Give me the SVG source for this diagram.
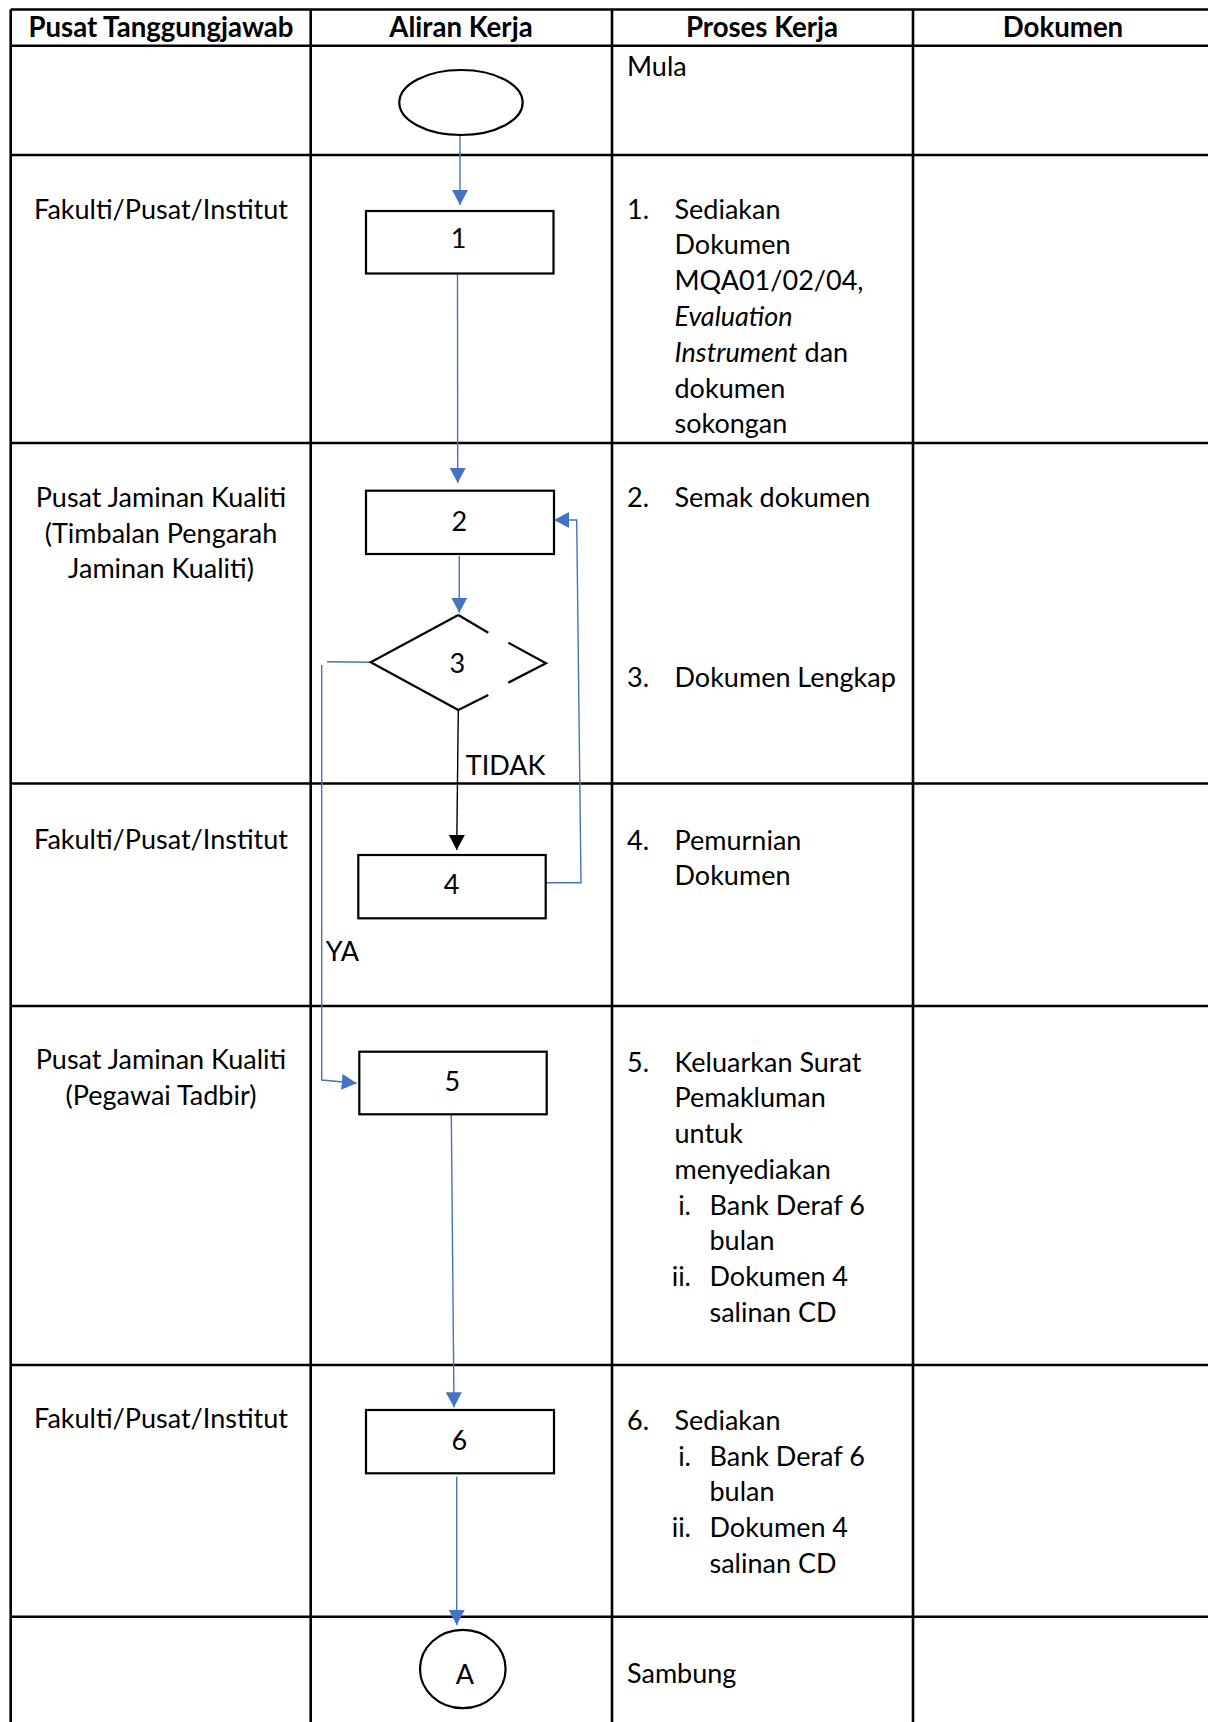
<svg xmlns="http://www.w3.org/2000/svg" width="1208" height="1722" viewBox="0 0 1208 1722">
<style>
.grid{stroke:#000;stroke-width:2.6;fill:none}
.shape{fill:#fff;stroke:#000;stroke-width:2.2}
.conn{stroke:#4472C4;stroke-width:1.4;fill:none}
.connk{stroke:#000;stroke-width:1.4;fill:none}
text{font-family:Lato,"Liberation Sans",sans-serif;font-size:27px;fill:#000}
.h{font-weight:bold;text-anchor:middle;font-size:27.6px}
.c{text-anchor:middle}
.e{text-anchor:end}
.i{font-style:italic}
</style>
<defs>
<marker id="ab" viewBox="0 0 15 16" markerWidth="15" markerHeight="16" refX="15" refY="8" orient="auto" markerUnits="userSpaceOnUse"><path d="M0,0 L15,8 L0,16 z" fill="#4472C4"/></marker>
<marker id="ak" viewBox="0 0 15 16" markerWidth="15" markerHeight="16" refX="15" refY="8" orient="auto" markerUnits="userSpaceOnUse"><path d="M0,0 L15,8 L0,16 z" fill="#000"/></marker>
</defs>
<rect width="1208" height="1722" fill="#fff"/>
<g id="table">
<path class="grid" d="M10.7,9.5H1208 M10.7,45.7H1208 M10.7,155H1208 M10.7,443H1208 M10.7,783.5H1208 M10.7,1006H1208 M10.7,1365H1208 M10.7,1616.7H1208 M10.7,9.5V1722 M310.7,9.5V1722 M612,9.5V1722 M913,9.5V1722"/>
<text class="h" x="161" y="37">Pusat Tanggungjawab</text>
<text class="h" x="461" y="37">Aliran Kerja</text>
<text class="h" x="762" y="37">Proses Kerja</text>
<text class="h" x="1063" y="37">Dokumen</text>
</g>
<g id="responsibility">
<text class="c" x="161" y="219.3">Fakulti/Pusat/Institut</text>
<text class="c" x="161" y="506.7">Pusat Jaminan Kualiti</text>
<text class="c" x="161" y="542.5">(Timbalan Pengarah</text>
<text class="c" x="161" y="578.3">Jaminan Kualiti)</text>
<text class="c" x="161" y="849.3">Fakulti/Pusat/Institut</text>
<text class="c" x="161" y="1069.3">Pusat Jaminan Kualiti</text>
<text class="c" x="161" y="1105">(Pegawai Tadbir)</text>
<text class="c" x="161" y="1428.3">Fakulti/Pusat/Institut</text>
</g>
<g id="process">
<text x="627" y="76">Mula</text>
<text x="627" y="218.5">1.</text>
<text x="674.5" y="218.5">Sediakan</text>
<text x="674.5" y="254.3">Dokumen</text>
<text x="674.5" y="290.1">MQA01/02/04,</text>
<text x="674.5" y="325.9" class="i">Evaluation</text>
<text x="674.5" y="361.7"><tspan class="i">Instrument</tspan> dan</text>
<text x="674.5" y="397.5">dokumen</text>
<text x="674.5" y="433.3">sokongan</text>
<text x="627" y="506.7">2.</text>
<text x="674.5" y="506.7">Semak dokumen</text>
<text x="627" y="686.7">3.</text>
<text x="674.5" y="686.7">Dokumen Lengkap</text>
<text x="627" y="849.5">4.</text>
<text x="674.5" y="849.5">Pemurnian</text>
<text x="674.5" y="885.3">Dokumen</text>
<text x="627" y="1071.7">5.</text>
<text x="674.5" y="1071.7">Keluarkan Surat</text>
<text x="674.5" y="1107.4">Pemakluman</text>
<text x="674.5" y="1143.1">untuk</text>
<text x="674.5" y="1178.8">menyediakan</text>
<text class="e" x="691" y="1214.5">i.</text>
<text x="709.5" y="1214.5">Bank Deraf 6</text>
<text x="709.5" y="1250.2">bulan</text>
<text class="e" x="691" y="1285.9">ii.</text>
<text x="709.5" y="1285.9">Dokumen 4</text>
<text x="709.5" y="1321.6">salinan CD</text>
<text x="627" y="1430">6.</text>
<text x="674.5" y="1430">Sediakan</text>
<text class="e" x="691" y="1465.7">i.</text>
<text x="709.5" y="1465.7">Bank Deraf 6</text>
<text x="709.5" y="1501.4">bulan</text>
<text class="e" x="691" y="1537.1">ii.</text>
<text x="709.5" y="1537.1">Dokumen 4</text>
<text x="709.5" y="1572.8">salinan CD</text>
<text x="627" y="1683">Sambung</text>
</g>
<g id="connectors">
<path class="conn" d="M460,135 V205" marker-end="url(#ab)"/>
<path class="conn" d="M457.5,274 L457.7,483" marker-end="url(#ab)"/>
<path class="conn" d="M459.3,556 V612.7" marker-end="url(#ab)"/>
<path class="connk" d="M458.3,710 L456.7,850" marker-end="url(#ak)"/>
<path class="conn" d="M545.7,882.7 H581 L576.7,520 H554" marker-end="url(#ab)"/>
<path class="conn" d="M370.7,662.3 L327,661.7"/>
<path class="conn" d="M321.7,665 V1080 L356.7,1083.3" marker-end="url(#ab)"/>
<path class="conn" d="M451.3,1115 L454,1407.3" marker-end="url(#ab)"/>
<path class="conn" d="M456.7,1476.7 V1625" marker-end="url(#ab)"/>
<text x="465.7" y="775">TIDAK</text>
<text x="325.7" y="960.7">YA</text>
</g>
<g id="start">
<ellipse class="shape" cx="461" cy="102.5" rx="61.7" ry="32.5"/>
</g>
<g id="step1">
<rect class="shape" x="366" y="211" width="187.5" height="62.5"/>
<text class="c" x="458.7" y="248">1</text>
</g>
<g id="step2">
<rect class="shape" x="366" y="490.7" width="188" height="63.3"/>
<text class="c" x="459.3" y="530.7">2</text>
</g>
<g id="step3">
<polygon points="458.3,615 546,663.3 458.3,710 370.7,662.3" fill="#fff"/>
<path class="shape" d="M458.3,615 L488.3,632.7 M508.3,642.7 L546,663.3 L508.3,682.7 M488.3,695 L458.3,710 L370.7,662.3 L458.3,615" style="fill:none"/>
<text class="c" x="457.3" y="672.7">3</text>
</g>
<g id="step4">
<rect class="shape" x="358.3" y="855" width="187.4" height="63.3"/>
<text class="c" x="451.7" y="894">4</text>
</g>
<g id="step5">
<rect class="shape" x="359.3" y="1051.7" width="187.4" height="62.6"/>
<text class="c" x="452.3" y="1090.7">5</text>
</g>
<g id="step6">
<rect class="shape" x="366" y="1410" width="188" height="63.3"/>
<text class="c" x="459.3" y="1450">6</text>
</g>
<g id="connectorA">
<ellipse class="shape" cx="462.8" cy="1669" rx="42.8" ry="39.2"/>
<text class="c" x="465" y="1684">A</text>
</g>
</svg>
